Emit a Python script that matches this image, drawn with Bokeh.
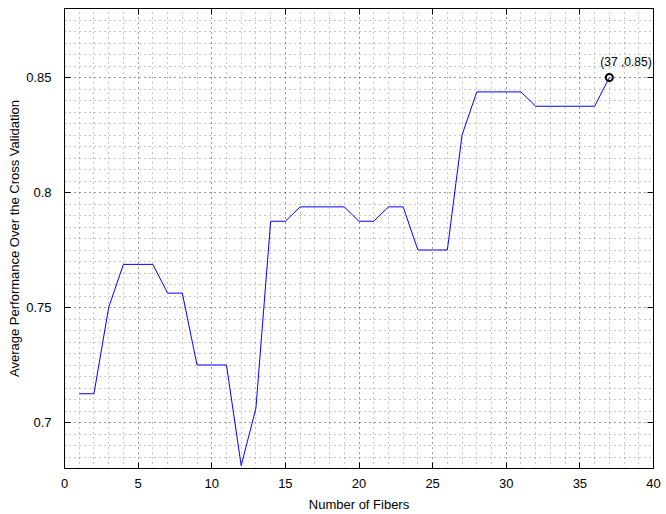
from bokeh.plotting import figure
from bokeh.models import LinearAxis, SingleIntervalTicker, Range1d, Label, CustomLabelingPolicy
from bokeh.embed import file_html
from bokeh.resources import INLINE

num_fibers = list(range(1, 38))
avg_perf = [0.7125, 0.7125, 0.75, 0.76875, 0.76875, 0.76875, 0.75625, 0.75625,
            0.725, 0.725, 0.725, 0.68125, 0.70625, 0.7875, 0.7875, 0.79375,
            0.79375, 0.79375, 0.79375, 0.7875, 0.7875, 0.79375, 0.79375, 0.775,
            0.775, 0.775, 0.825, 0.84375, 0.84375, 0.84375, 0.84375, 0.8375,
            0.8375, 0.8375, 0.8375, 0.8375, 0.85]
best_x = [37]
best_y = [0.85]
best_label = "(37 ,0.85)"
x_label = "Number of Fibers"
y_label = "Average Performance Over the Cross Validation"

FONT = "Liberation Sans"
FS = "13px"

p = figure(width=666, height=514, output_backend="svg", toolbar_location=None,
           x_range=Range1d(0, 40), y_range=Range1d(0.68, 0.88),
           min_border_left=64, min_border_right=13, min_border_top=6, min_border_bottom=44,
           x_axis_label=x_label, y_axis_label=y_label)
p.background_fill_color = "white"
p.border_fill_color = "white"
p.outline_line_color = "black"
p.outline_line_width = 1

xt = SingleIntervalTicker(interval=5, num_minor_ticks=5)
yt = SingleIntervalTicker(interval=0.05, num_minor_ticks=10)
p.xaxis.ticker = xt
p.yaxis.ticker = yt
p.xgrid.ticker = xt
p.ygrid.ticker = yt

for ax in (p.xaxis[0], p.yaxis[0]):
    ax.major_tick_in = 6
    ax.major_tick_out = 0
    ax.minor_tick_line_color = None
    ax.axis_line_color = "black"
    ax.major_tick_line_color = "black"
    ax.major_label_text_font = FONT
    ax.major_label_text_font_size = FS
    ax.major_label_text_color = "black"
    ax.axis_label_text_font = FONT
    ax.axis_label_text_font_size = FS
    ax.axis_label_text_font_style = "normal"
    ax.axis_label_text_color = "black"

p.yaxis.major_label_standoff = 9
p.yaxis.axis_label_standoff = 1
p.xaxis.major_label_standoff = 6
p.xaxis.axis_label_standoff = 6

for side, tk in (("above", xt), ("right", yt)):
    a = LinearAxis(ticker=tk)
    a.major_tick_in = 6
    a.major_tick_out = 0
    a.minor_tick_line_color = None
    a.major_label_policy = CustomLabelingPolicy(code="return new Set()")
    a.major_label_text_font_size = "1px"
    a.major_label_standoff = 0
    a.axis_line_color = "black"
    p.add_layout(a, side)

for g in (p.xgrid[0], p.ygrid[0]):
    g.grid_line_color = "black"
    g.grid_line_alpha = 0.45
    g.grid_line_dash = "1 4"
    g.minor_grid_line_color = "black"
    g.minor_grid_line_alpha = 0.45
    g.minor_grid_line_dash = "1 4"

p.line(num_fibers, avg_perf, line_color="#0000ff", line_width=1)
p.scatter(best_x, best_y, marker="circle", size=7, fill_color=None,
          line_color="black", line_width=2)

p.add_layout(Label(x=best_x[0], y=best_y[0], text=best_label, x_offset=-9, y_offset=9,
                   text_font=FONT, text_font_size="12px", text_color="black",
                   text_baseline="bottom", text_align="left", level="overlay"))

open("out.html", "w").write(file_html(p, INLINE))
